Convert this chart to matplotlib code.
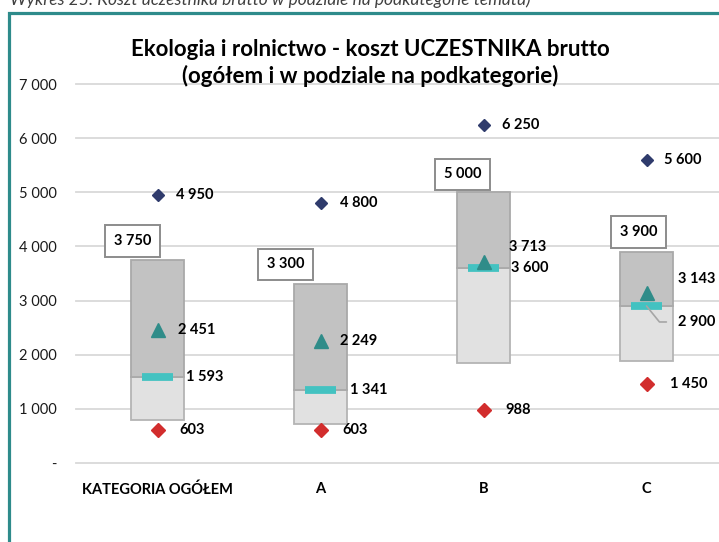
import matplotlib
matplotlib.use('Agg')
import matplotlib.pyplot as plt
from matplotlib.patches import Rectangle

# ---- data ----
categories = ['KATEGORIA OGÓŁEM', 'A', 'B', 'C']
box_low = [800, 720, 1850, 1880]
median = [1593, 1341, 3600, 2900]
box_high = [3750, 3300, 5000, 3900]
mean = [2451, 2249, 3713, 3143]
max_val = [4950, 4800, 6250, 5600]
min_val = [603, 603, 988, 1450]
yticks = [0, 1000, 2000, 3000, 4000, 5000, 6000, 7000]

title = 'Ekologia i rolnictwo - koszt UCZESTNIKA brutto\n(ogółem i w podziale na podkategorie)'
caption = 'Wykres 25. Koszt uczestnika brutto w podziale na podkategorie tematu)'

# ---- style / label offsets (pixels) ----
FONT = 'Lato'
plt.rcParams['font.family'] = [FONT, 'DejaVu Sans']
W, H = 719, 542
box_lbl_off = [(-25, 19), (-35, 20), (-21, 18), (-8, 20)]
max_lbl_off = [(19, 0), (19, 0), (18, 0), (17, 0)]
min_lbl_off = [(22, 0), (22, 0), (22, 0), (23, 0)]
mean_lbl_off = [(20, 0), (20, 0), (25, 15), (31, 14)]
med_lbl_off = [(29, 0), (29, 0), (27, 0), (31, -16)]
LBL_FS = 10.5


def fmt(v):
    return '-' if v == 0 else f'{v:,}'.replace(',', ' ')


fig = plt.figure(figsize=(W / 100, H / 100), dpi=100)
ax = fig.add_axes([76 / W, (H - 463) / H, (728 - 76) / W, (463 - 84) / H])
ax.set_xlim(-0.5, 3.5)
ax.set_ylim(0, 7000)

for yt in yticks:
    ax.axhline(yt, color='#D9D9D9', lw=1.3, zorder=0, clip_on=False)

x = list(range(len(categories)))
bw = 0.325
ax.bar(x, [m - l for m, l in zip(median, box_low)], bottom=box_low, width=bw,
       color='#E1E1E1', edgecolor='#B4B4B4', lw=1.3, zorder=2)
ax.bar(x, [h - m for h, m in zip(box_high, median)], bottom=median, width=bw,
       color='#C2C2C2', edgecolor='#A9A9A9', lw=1.3, zorder=2)

ax.hlines(median, [i - 0.095 for i in x], [i + 0.095 for i in x],
          color='#43C2C1', lw=5.6, zorder=4)
ax.plot(x, mean, ls='none', marker='^', ms=10.5, color='#2F8C89', zorder=5)
ax.plot(x, max_val, ls='none', marker='D', ms=6.5, color='#2F3B6C', zorder=5)
ax.plot(x, min_val, ls='none', marker='D', ms=7.5, color='#D22D2D', zorder=5)

lbl_kw = dict(textcoords='offset pixels', ha='left', va='center',
              fontsize=LBL_FS, fontweight='bold', color='#000000', zorder=6,
              annotation_clip=False)
for i in x:
    ax.annotate(fmt(max_val[i]), (i, max_val[i]), xytext=max_lbl_off[i], **lbl_kw)
    ax.annotate(fmt(min_val[i]), (i, min_val[i]), xytext=min_lbl_off[i], **lbl_kw)
    ax.annotate(fmt(mean[i]), (i, mean[i]), xytext=mean_lbl_off[i], **lbl_kw)
    if i == 3:
        ax.annotate(fmt(median[i]), (i, median[i]), xytext=med_lbl_off[i],
                    arrowprops=dict(arrowstyle='-', color='#A6A6A6', lw=1.2,
                                    shrinkA=6, shrinkB=0, relpos=(0, 0.5),
                                    connectionstyle='angle,angleA=0,angleB=-51,rad=0'),
                    **lbl_kw)
    else:
        ax.annotate(fmt(median[i]), (i, median[i]), xytext=med_lbl_off[i], **lbl_kw)
    ax.annotate(fmt(box_high[i]), (i, box_high[i]), xytext=box_lbl_off[i],
                textcoords='offset pixels', ha='center', va='center',
                fontsize=LBL_FS, fontweight='bold', color='#000000', zorder=6,
                annotation_clip=False,
                bbox=dict(boxstyle='square,pad=0.6', fc='white', ec='#8C8C8C', lw=1.4))

ax.set_yticks(yticks)
ax.set_yticklabels([fmt(v) for v in yticks], fontsize=10.5, color='#1A1A1A')
ax.set_xticks(x)
ax.set_xticklabels(categories, fontsize=10.5, fontweight='bold', color='#000000')
ax.tick_params(axis='both', length=0)
ax.tick_params(axis='y', pad=14)
ax.tick_params(axis='x', pad=14)
for s in ax.spines.values():
    s.set_visible(False)

fig.text(370 / W, 1 - 63 / H, title, ha='center', va='center', fontsize=16,
         fontweight='bold', color='#000000', linespacing=1.3)
fig.text(10 / W, 1 - 5 / H, caption, ha='left', va='baseline', fontsize=12.5,
         style='italic', color='#404040')
fig.patches.append(Rectangle((9 / W, -0.5), 2.0, (H - 13) / H + 0.5,
                             transform=fig.transFigure, fill=False,
                             ec='#2E8B8B', lw=2.3, zorder=10))

fig.savefig('out.png', dpi=100)
